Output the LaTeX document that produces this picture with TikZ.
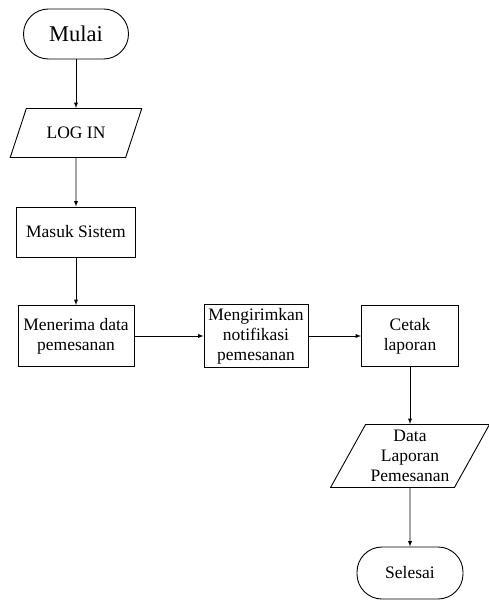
\documentclass[tikz,border=0pt]{standalone}
\usepackage{fontspec}
\setmainfont{Liberation Serif}
\usetikzlibrary{shapes.geometric}

\begin{document}
\begin{tikzpicture}[x=1pt, y=1pt, line width=0.9pt, >=latex, node distance = {99pt},
term/.style = {draw, rectangle, rounded corners=25pt, minimum width=105pt, minimum height=50pt, font=\fontsize{17.5}{20}\selectfont},
io/.style = {draw, trapezium, trapezium left angle=60, trapezium right angle=120, trapezium stretches=true, align=center, font=\fontsize{17.5}{20}\selectfont},
proc/.style = {draw, rectangle, align=center, minimum height=61pt, font=\fontsize{17.5}{20}\selectfont}]
    \useasboundingbox (0,0) rectangle (488,-601);

    \node[term, font=\fontsize{22.5}{26}\selectfont] (1) at (76,-34) {Mulai};
    \node[io, below of=1, minimum width=132pt, minimum height=49pt] (2) {LOG IN};
    \node[proc, below of=2, minimum width=119pt, minimum height=50pt] (3) {Masuk Sistem};

    \node[proc, below of=3, node distance=104pt, minimum width=116pt] (4) {Menerima data\\pemesanan};
    \node[proc, right of=4, node distance=180pt, minimum width=104pt] (5) {Mengirimkan\\notifikasi\\pemesanan};
    \node[proc, right of=5, node distance=154pt, minimum width=97pt] (6) {Cetak\\laporan};

    \node[io, below of=6, node distance=120pt, minimum width=159pt, minimum height=63pt] (7) {Data\\Laporan\\Pemesanan};
    \node[term, below of=7, node distance=117pt, minimum width=106pt, minimum height=52pt] (8) {Selesai};

    \draw [->] (1) -- (2);
    \draw [->] (2) -- (3);
    \draw [->] (3) -- (4);

    \draw [->] (4) -- (5);
    \draw [->] (5) -- (6);

    \draw [->] (6) -- (7);
    \draw [->] (7) -- (8);

\end{tikzpicture}
\end{document}
